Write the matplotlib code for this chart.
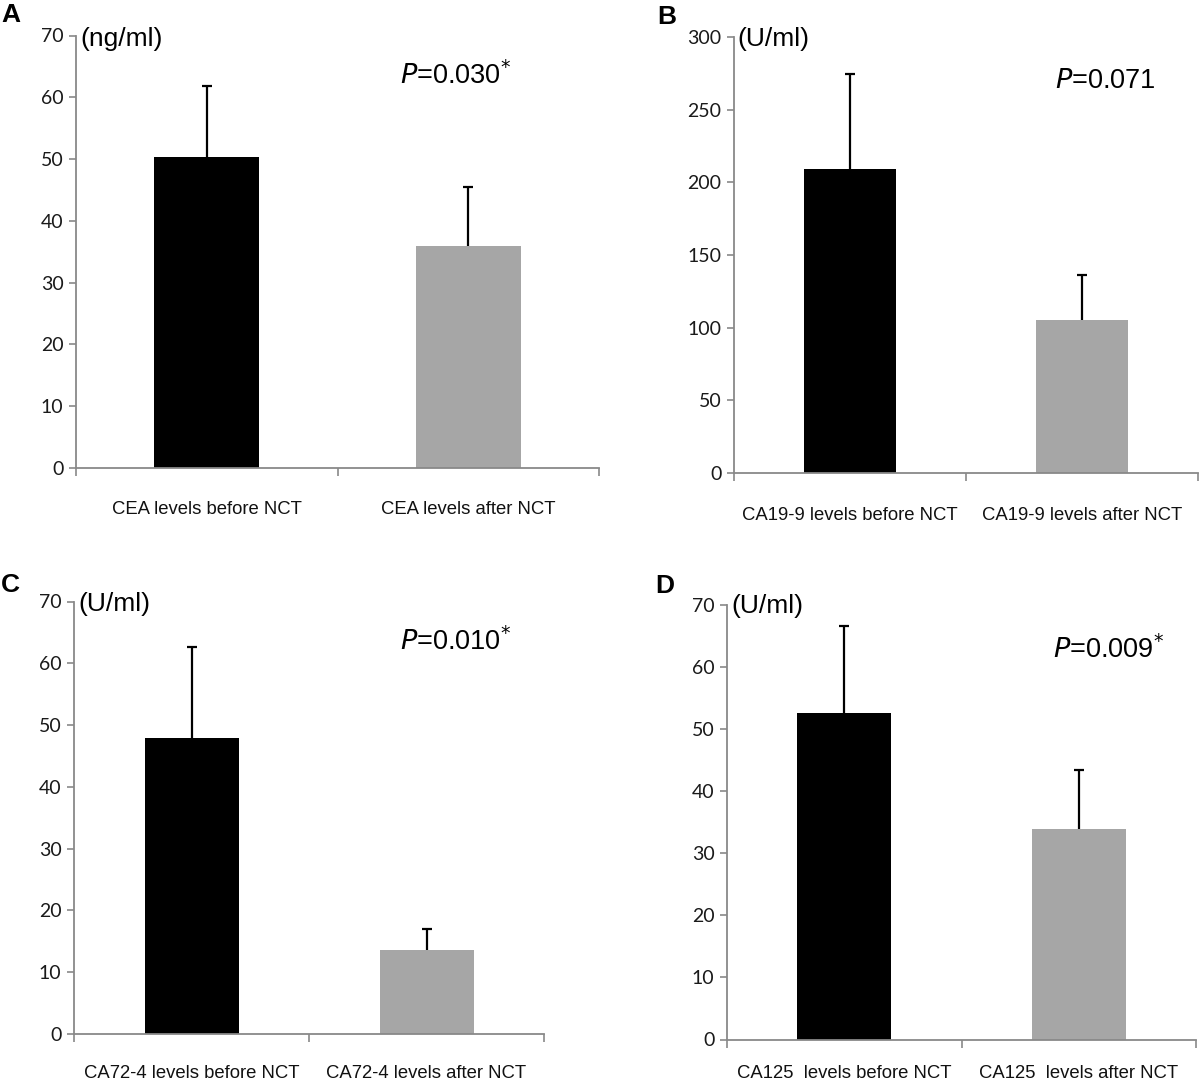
import matplotlib
matplotlib.use("Agg")
import matplotlib.pyplot as plt

W, H = 1200, 1084

# ---- data ----
panel_letters = ["A", "B", "C", "D"]
units = ["(ng/ml)", "(U/ml)", "(U/ml)", "(U/ml)"]
p_values = ["0.030", "0.071", "0.010", "0.009"]
p_signif = [True, False, True, True]

cea_labels = ["CEA levels before NCT", "CEA levels after NCT"]
cea_means = [50.4, 35.9]
cea_sd = [11.4, 9.6]

ca199_labels = ["CA19-9 levels before NCT", "CA19-9 levels after NCT"]
ca199_means = [209.0, 105.5]
ca199_sd = [65.8, 30.5]

ca724_labels = ["CA72-4 levels before NCT", "CA72-4 levels after NCT"]
ca724_means = [47.9, 13.6]
ca724_sd = [14.8, 3.4]

ca125_labels = ["CA125  levels before NCT", "CA125  levels after NCT"]
ca125_means = [52.6, 33.8]
ca125_sd = [13.9, 9.6]

y_max = [70, 300, 70, 70]
y_step = [10, 50, 10, 10]

bar_colors = ["#000000", "#a6a6a6"]
axis_color = "#898989"

# ---- layout (pixel boxes: left, top, right, bottom) ----
boxes = [(76, 35.5, 599, 468), (734, 37, 1198, 473),
         (74, 601.5, 544, 1034), (727, 604.5, 1196, 1039.5)]
letter_pos = [(1, 15), (657, 17), (1, 585), (655, 586)]
unit_pos = [(80, 39), (737, 39), (78, 604), (731, 606)]
p_pos = [(400, 76), (1055, 81), (400, 642), (1053, 650)]
label_y = [510, 515, 1073, 1073]

datasets = [(cea_labels, cea_means, cea_sd), (ca199_labels, ca199_means, ca199_sd),
            (ca724_labels, ca724_means, ca724_sd), (ca125_labels, ca125_means, ca125_sd)]

fig = plt.figure(figsize=(W / 100, H / 100), dpi=100)

def fx(x):
    return x / W

def fy(y):
    return 1 - y / H

tick_font = "Lato"
lab_font = "Liberation Sans"

for i, (labels, means, sds) in enumerate(datasets):
    l, t, r, b = boxes[i]
    ax = fig.add_axes([fx(l), fy(b), (r - l) / W, (b - t) / H])
    xs = [0.5, 1.5]
    ax.bar(xs, means, width=0.4, color=bar_colors, zorder=2)
    tops = [m + s for m, s in zip(means, sds)]
    ax.errorbar(xs, means, yerr=[[0, 0], sds], fmt="none", ecolor="black",
                elinewidth=1.6, capsize=0, zorder=3)
    ax.plot(xs, tops, linestyle="none", marker="_", markersize=7,
            markeredgewidth=1.6, color="black", zorder=3)
    ax.set_xlim(0, 2)
    ax.set_ylim(0, y_max[i])
    ax.set_yticks(range(0, y_max[i] + 1, y_step[i]))
    ax.set_xticks([0, 1, 2])
    ax.set_xticklabels([])
    ax.tick_params(axis="x", direction="out", length=6, width=1.2, color=axis_color)
    ax.tick_params(axis="y", direction="out", length=5, width=1.2, color=axis_color,
                   labelsize=14, labelcolor="#1a1a1a", pad=4)
    for lab in ax.get_yticklabels():
        lab.set_fontfamily(tick_font)
    for s in ["top", "right"]:
        ax.spines[s].set_visible(False)
    for s in ["left", "bottom"]:
        ax.spines[s].set_color(axis_color)
        ax.spines[s].set_linewidth(1.3)
    ax.spines["left"].set_zorder(4)
    # category labels
    for k, txt in enumerate(labels):
        cx = l + (r - l) * (xs[k] / 2)
        fig.text(fx(cx), fy(label_y[i]), txt, ha="center", va="center",
                 fontsize=13.3, family=lab_font, color="#111111")
    # panel letter
    lx, ly = letter_pos[i]
    fig.text(fx(lx), fy(ly), panel_letters[i], ha="left", va="center",
             fontsize=19, fontweight="bold", family=lab_font)
    # units
    ux, uy = unit_pos[i]
    fig.text(fx(ux), fy(uy), units[i], ha="left", va="center",
             fontsize=19, family=lab_font)
    # p value
    px, py = p_pos[i]
    star = r"$^{*}$" if p_signif[i] else ""
    fig.text(fx(px), fy(py), r"$\it{P}$" + "=" + p_values[i] + star, ha="left",
             va="center", fontsize=19.5, family=lab_font)

fig.savefig("out.png", dpi=100, facecolor="white")
